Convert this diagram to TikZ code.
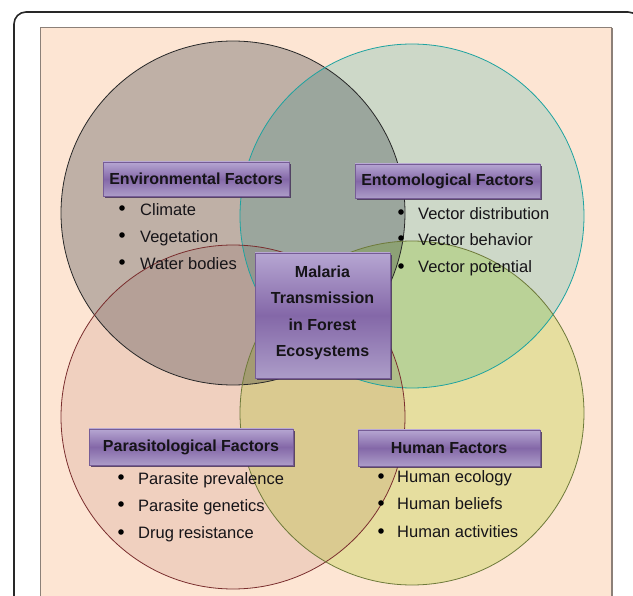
\documentclass[tikz,border=0pt]{standalone}
\usepackage{fontspec}
\setmainfont{Liberation Sans}
\usetikzlibrary{shadows}
\definecolor{peach}{RGB}{253,229,211}
\definecolor{rimgray}{RGB}{140,128,120}
\definecolor{framec}{RGB}{40,40,40}
\definecolor{cTL}{RGB}{193,197,201}
\definecolor{cTR}{RGB}{207,241,242}
\definecolor{cBL}{RGB}{242,232,232}
\definecolor{cBR}{RGB}{232,248,193}
\definecolor{bTL}{RGB}{40,40,40}
\definecolor{bTR}{RGB}{30,163,160}
\definecolor{bBL}{RGB}{122,46,46}
\definecolor{bBR}{RGB}{110,122,58}
\definecolor{ptop}{RGB}{182,166,210}
\definecolor{pmid}{RGB}{132,104,168}
\definecolor{pbot}{RGB}{172,156,200}
\definecolor{pline}{RGB}{118,92,150}
\definecolor{pshadow}{RGB}{70,50,90}
\definecolor{txt}{RGB}{22,20,24}
\tikzset{
  ring/.style={line width=0.8pt},
  labelbox/.style={draw=pline, line width=0.8pt, top color=ptop, bottom color=pbot, middle color=pmid,
    drop shadow={shadow xshift=2pt, shadow yshift=-2pt, fill=pshadow, opacity=0.85},
    font=\fontsize{16}{19}\selectfont\bfseries, text=txt, inner sep=0pt},
  item/.style={anchor=base west, font=\fontsize{16.5}{19}\selectfont, text=txt, inner sep=0pt},
  bul/.style={circle, fill=black, inner sep=0pt, minimum size=5.6pt},
}
\begin{document}
\begin{tikzpicture}[x=1pt,y=-1pt]
\useasboundingbox (0,0) rectangle (633,596);
% outer frame
\draw[framec, line width=1.6pt, rounded corners=12pt] (14,12) rectangle (640,620);
% inner panel
\fill[peach] (40,28) rectangle (612,610);
\draw[rimgray, line width=1pt] (612,610) -- (40,610) -- (40,28) -- (612,28);
\draw[rimgray, line width=2pt] (612,28) -- (612,610);
% circles
\begin{scope}[blend mode=multiply]
  \fill[cTL] (233,213) circle[radius=172pt];
  \fill[cTR] (412,216) circle[radius=172pt];
  \fill[cBL] (233,417) circle[radius=172pt];
  \fill[cBR] (412,413) circle[radius=172pt];
\end{scope}
\draw[ring, bTL] (233,213) circle[radius=172pt];
\draw[ring, bTR] (412,216) circle[radius=172pt];
\draw[ring, bBL] (233,417) circle[radius=172pt];
\draw[ring, bBR] (412,413) circle[radius=172pt];
% centre box
\node[labelbox, minimum width=135pt, minimum height=125pt] (centre) at (322.5,315.5) {};
\node[font=\fontsize{16}{26.5}\selectfont\bfseries, text=txt, align=center, inner sep=0pt] (centretext) at (322.5,313)
  {Malaria\\Transmission\\in Forest\\Ecosystems};
% label boxes
\node[labelbox, minimum width=186pt, minimum height=34pt] (env) at (196,179) {Environmental Factors};
\node[labelbox, minimum width=185pt, minimum height=34pt] (ent) at (447.5,181) {Entomological Factors};
\node[labelbox, minimum width=204pt, minimum height=36pt] (par) at (191,447) {Parasitological Factors};
\node[labelbox, minimum width=182pt, minimum height=36pt] (hum) at (449,448) {Human Factors};
% environmental items
\node[bul] (eb1) at (122,208) {};
\node[bul] (eb2) at (122,235) {};
\node[bul] (eb3) at (122,262) {};
\node[item] (e1) at (140,215.5) {Climate};
\node[item] (e2) at (140,242.5) {Vegetation};
\node[item] (e3) at (140,270) {Water bodies};
% entomological items
\node[bul] (nb1) at (401,212) {};
\node[bul] (nb2) at (401,238) {};
\node[bul] (nb3) at (401,266) {};
\node[item] (n1) at (418,220) {Vector distribution};
\node[item] (n2) at (418,246) {Vector behavior};
\node[item] (n3) at (418,273) {Vector potential};
% parasitological items
\node[bul] (pb1) at (121,477) {};
\node[bul] (pb2) at (121,504) {};
\node[bul] (pb3) at (121,532) {};
\node[item] (p1) at (138,485) {Parasite prevalence};
\node[item] (p2) at (138,512) {Parasite genetics};
\node[item] (p3) at (138,539) {Drug resistance};
% human items
\node[bul] (hb1) at (381,476) {};
\node[bul] (hb2) at (381,503) {};
\node[bul] (hb3) at (381,531) {};
\node[item] (h1) at (397,483) {Human ecology};
\node[item] (h2) at (397,510) {Human beliefs};
\node[item] (h3) at (397,538) {Human activities};
\end{tikzpicture}
\end{document}
